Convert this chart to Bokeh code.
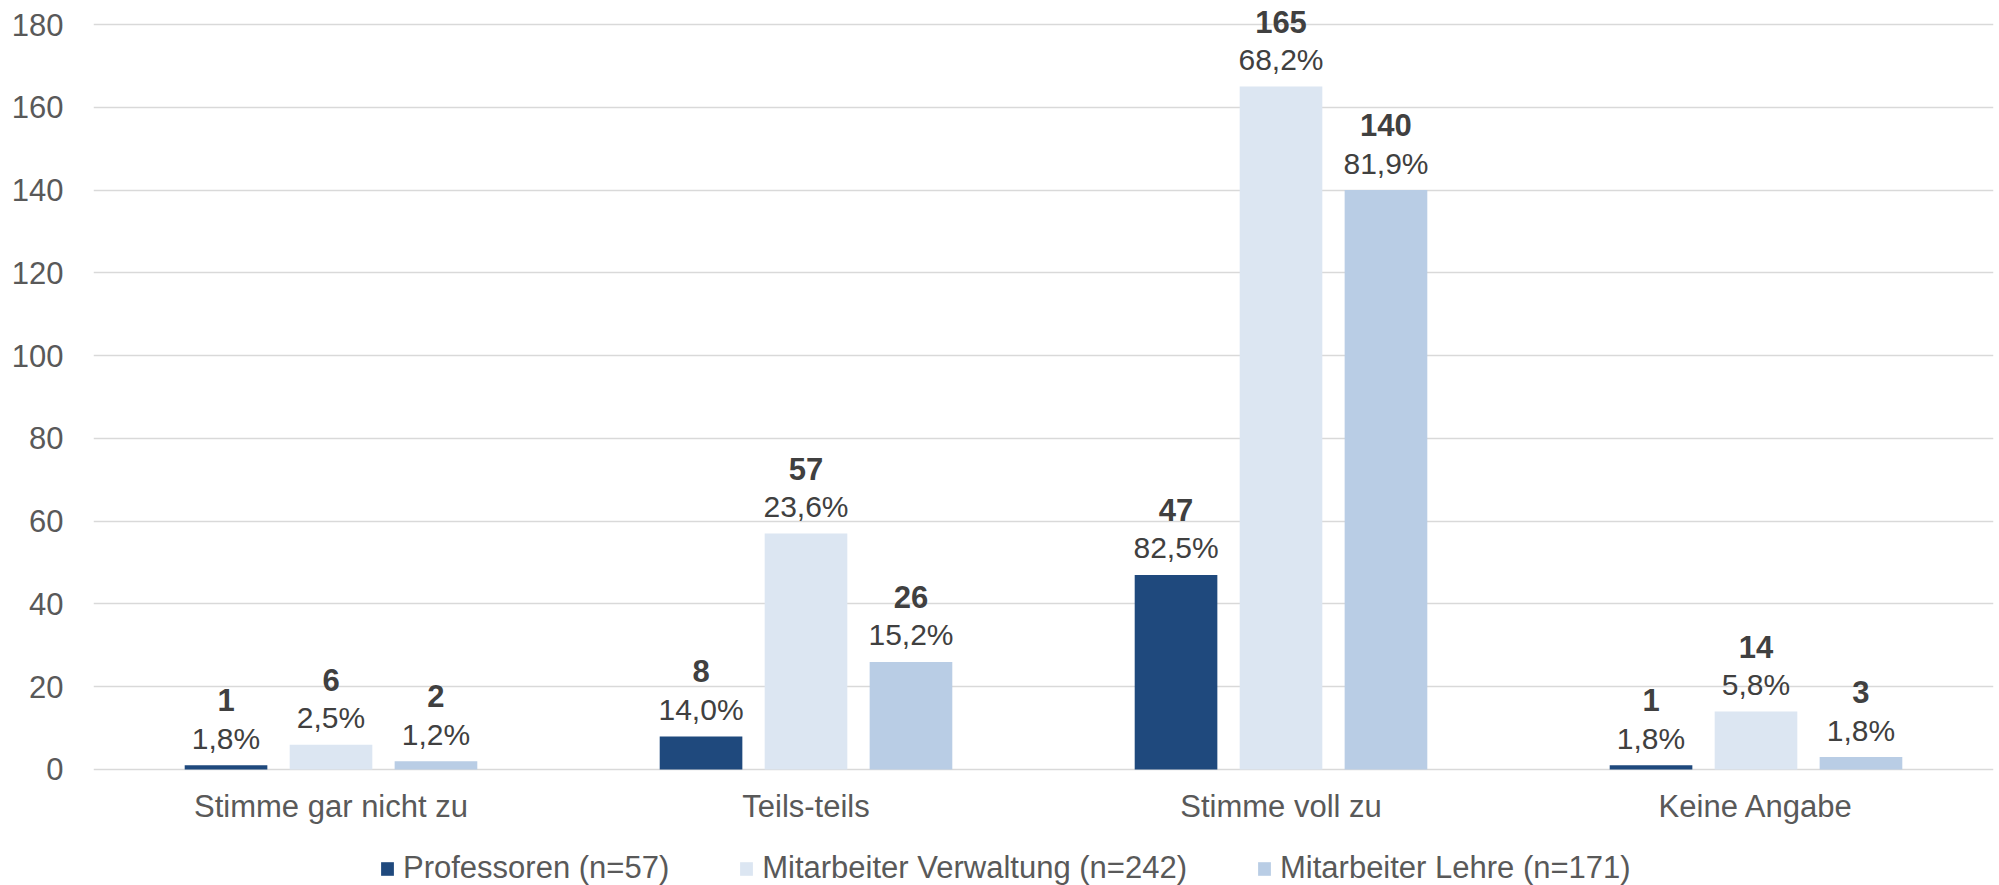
from bokeh.plotting import figure
from bokeh.models import ColumnDataSource, FactorRange, FixedTicker, Legend, LegendItem, Range1d
from bokeh.transform import dodge
from bokeh.core.properties import value
from bokeh.embed import file_html
from bokeh.resources import INLINE

categories = ["Stimme gar nicht zu", "Teils-teils", "Stimme voll zu", "Keine Angabe"]
series_names = ["Professoren (n=57)", "Mitarbeiter Verwaltung (n=242)", "Mitarbeiter Lehre (n=171)"]
professoren = [1, 8, 47, 1]
verwaltung = [6, 57, 165, 14]
lehre = [2, 26, 140, 3]
professoren_pct = ["1,8%", "14,0%", "82,5%", "1,8%"]
verwaltung_pct = ["2,5%", "23,6%", "68,2%", "5,8%"]
lehre_pct = ["1,2%", "15,2%", "81,9%", "1,8%"]
y_ticks = [0, 20, 40, 60, 80, 100, 120, 140, 160, 180]

colors = ["#1F497D", "#DCE6F2", "#B9CDE5"]
offsets = [-0.221, 0.0, 0.221]
bar_width = 0.174
FONT = "Liberation Sans"

# frame spans the whole canvas height; the x axis is drawn at y=0 inside it
p = figure(width=1999, height=885, x_range=FactorRange(*categories),
           y_range=Range1d(-28.03, 185.8), output_backend="svg", toolbar_location=None,
           min_border_left=93, min_border_right=6, min_border_top=0, min_border_bottom=0)
p.outline_line_color = None
p.background_fill_color = "white"

series = [(professoren, professoren_pct), (verwaltung, verwaltung_pct), (lehre, lehre_pct)]
items = []
for (vals, pcts), name, col, off in zip(series, series_names, colors, offsets):
    src = ColumnDataSource(dict(cat=categories, val=vals,
                                num=[str(v) for v in vals], pct=pcts))
    r = p.vbar(x=dodge("cat", off, range=p.x_range), top="val", bottom=0, width=bar_width,
               source=src, fill_color=col, line_color=None)
    p.text(x=dodge("cat", off, range=p.x_range), y="val", text="pct", source=src,
           y_offset=-27, text_align="center", text_baseline="middle",
           text_font=value(FONT), text_font_size="30px", text_color="#404040")
    p.text(x=dodge("cat", off, range=p.x_range), y="val", text="num", source=src,
           y_offset=-65, text_align="center", text_baseline="middle",
           text_font=value(FONT), text_font_size="31px", text_font_style="bold",
           text_color="#404040")
    items.append(LegendItem(label=name, renderers=[r]))

p.yaxis.ticker = FixedTicker(ticks=y_ticks)
p.yaxis.axis_line_color = None
p.yaxis.major_tick_line_color = None
p.yaxis.minor_tick_line_color = None
p.yaxis.major_tick_out = 0
p.yaxis.major_label_standoff = 30
p.yaxis.major_label_text_font = FONT
p.yaxis.major_label_text_font_size = "31px"
p.yaxis.major_label_text_color = "#595959"

p.xaxis.fixed_location = 0
p.xaxis.axis_line_color = None
p.xaxis.major_tick_line_color = None
p.xaxis.minor_tick_line_color = None
p.xaxis.major_tick_out = 0
p.xaxis.major_label_standoff = 20
p.xaxis.major_label_text_font = FONT
p.xaxis.major_label_text_font_size = "31px"
p.xaxis.major_label_text_color = "#595959"

p.xgrid.grid_line_color = None
p.ygrid.grid_line_color = "#D9D9D9"
p.ygrid.grid_line_width = 1.5

legend = Legend(items=items, orientation="horizontal", location=(286, -1),
                padding=0, margin=0, spacing=69, glyph_width=16, glyph_height=17,
                label_standoff=8, border_line_color=None, background_fill_alpha=0,
                label_text_font=FONT, label_text_font_size="31px",
                label_text_color="#595959")
p.add_layout(legend)

open("out.html", "w").write(file_html(p, INLINE))
